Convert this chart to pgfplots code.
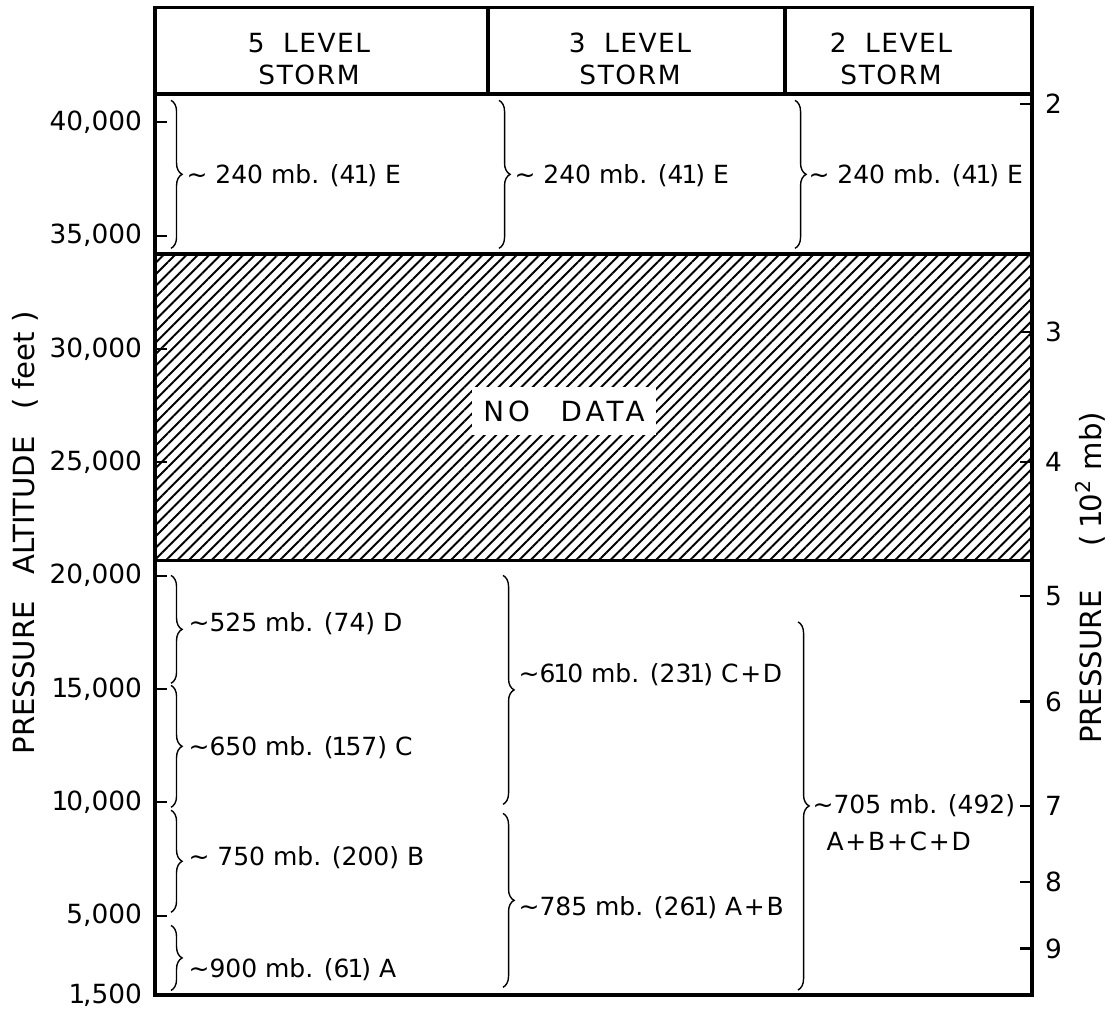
\documentclass[border=0pt]{standalone}
\usepackage{fontspec}
\setmainfont{DejaVu Sans}
\usepackage{pgfplots}
\pgfplotsset{compat=1.18}
\usetikzlibrary{patterns.meta,decorations.pathreplacing}
\newcommand\one{\kern-0.08em 1\kern-0.08em}
\newcommand\pl{\kern0.07em+\kern0.07em}

\begin{document}
\fontsize{9}{11}\selectfont
\begin{tikzpicture}[x=1pt,y=1pt]
\useasboundingbox (0,0) rectangle (399.24,363.96);
\pgfplotsset{
  common/.style={
    at={(55.8pt,5.76pt)}, anchor=south west,
    width=315.72pt, height=324.36pt, scale only axis,
    xmin=155, xmax=1032, ymin=1500, ymax=41250,
    scaled y ticks=false,
    axis line style={line width=1.1pt},
    tick align=inside, major tick length=4.3pt,
    every tick/.style={line width=0.8pt, black},
    ticklabel style={font=\fontsize{9.5}{11}\selectfont},
    /pgf/number format/assume math mode=true,
    label style={font=\fontsize{10.5}{12}\selectfont},
    xtick=\empty,
  },
}
\begin{axis}[common, clip=false,
  ytick pos=left,
  ytick={1500,5000,10000,15000,20000,25000,30000,35000,40000},
  yticklabels={{\one,500},{5,000},{\one0,000},{\one5,000},{20,000},{25,000},{30,000},{35,000},{40,000}},
  yticklabel style={xshift=-1.5pt},
  ylabel={PRESSURE\hspace{0.9em}ALTITUDE\hspace{0.9em}( feet )},
  ylabel style={at={(axis description cs:-0.148,0.513)}, anchor=center},
]
% hatched "no data" band
\addplot[draw=black, line width=1.1pt,
  pattern={Lines[angle=45,distance=2.9pt,line width=0.7pt]}]
  coordinates {(155,20650) (1032,20650) (1032,34190) (155,34190)} --cycle;
\node[fill=white, inner xsep=4pt, inner ysep=5pt, font=\fontsize{10}{12}\selectfont\addfontfeature{LetterSpace=15}]
  at (axis cs:564,27266) {NO\hspace{1.1em}DATA};

% header boxes
\draw[line width=1.1pt] (axis cs:155,41250) rectangle (axis cs:1032,45046);
\draw[line width=1.1pt] (axis cs:488,41250) -- (axis cs:488,45046);
\draw[line width=1.1pt] (axis cs:785,41250) -- (axis cs:785,45046);
\begin{scope}[every node/.style={align=center, font=\fontsize{9.5}{11.5}\selectfont\addfontfeature{LetterSpace=6}}]
\node at (axis cs:309,42800) {5\hspace{0.7em}LEVEL\\STORM};
\node at (axis cs:630,42800) {3\hspace{0.7em}LEVEL\\STORM};
\node at (axis cs:891,42800) {2\hspace{0.7em}LEVEL\\STORM};
\end{scope}

% braces
\pgfplotsset{br/.style={draw=black, line width=0.5pt, decorate, decoration={brace, amplitude=4pt}}}
\addplot[br] coordinates {(171,40970) (171,34440)};
\addplot[br] coordinates {(499,40970) (499,34440)};
\addplot[br] coordinates {(795,40970) (795,34440)};
\addplot[br] coordinates {(171,20010) (171,15250)};
\addplot[br] coordinates {(171,15160) (171,9780)};
\addplot[br] coordinates {(171,9650) (171,5150)};
\addplot[br] coordinates {(171,4570) (171,1700)};
\addplot[br] coordinates {(503,20010) (503,9910)};
\addplot[br] coordinates {(503,9510) (503,1840)};
\addplot[br] coordinates {(798,17960) (798,1720)};

% texts
\begin{scope}[every node/.style={anchor=west, inner sep=0pt, font=\fontsize{9}{11}\selectfont}]
\node at (axis cs:186,37634) {∼ 240 mb. (4\one) E};
\node at (axis cs:514,37634) {∼ 240 mb. (4\one) E};
\node at (axis cs:808,37634) {∼ 240 mb. (4\one) E};
\node at (axis cs:188,17869) {∼525 mb. (74) D};
\node at (axis cs:188,12398) {∼650 mb. (\one57) C};
\node at (axis cs:188,7544) {∼ 750 mb. (200) B};
\node at (axis cs:188,2603) {∼900 mb. (6\one) A};
\node at (axis cs:518,15618) {∼6\one0 mb. (23\one) C\pl D};
\node at (axis cs:518,5338) {∼785 mb. (26\one) A\pl B};
\node at (axis cs:812,9850) {∼705 mb. (492)};
\node at (axis cs:826,8294) {A\pl B\pl C\pl D};
\end{scope}
\end{axis}

\begin{axis}[common,
  axis x line=none, axis y line*=right,
  ytick={3550,6500,9850,14450,19100,25000,30750,40800},
  yticklabels={9,8,7,6,5,4,3,2},
  yticklabel style={xshift=1.5pt},
  ylabel={PRESSURE\hspace{1.5em}( \one0\textsuperscript{2} mb)},
  ylabel style={at={(axis description cs:1.066,0.463)}, anchor=center},
]
\addplot[draw=none] coordinates {(155,1500)};
\end{axis}
\end{tikzpicture}
\end{document}
